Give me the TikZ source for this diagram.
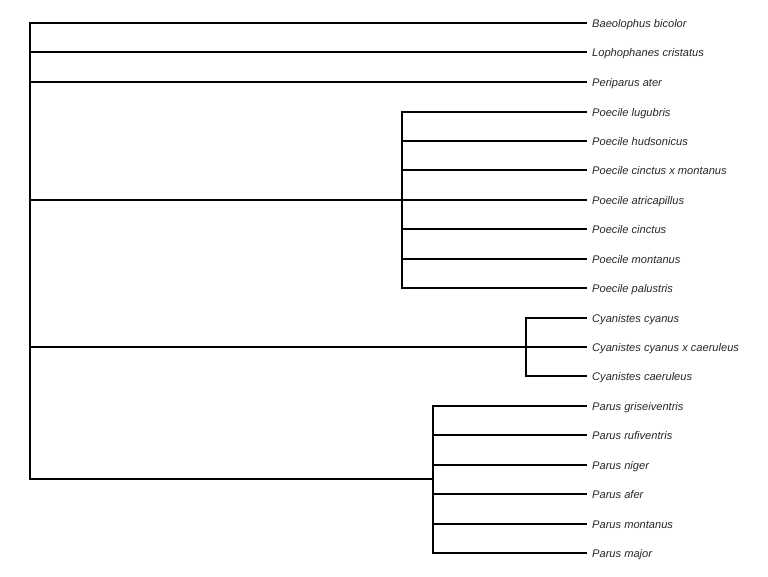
\documentclass[tikz,border=0pt]{standalone}
\usepackage{fontspec}
\setmainfont{Liberation Sans}
\begin{document}
\begin{tikzpicture}[x=1pt,y=-1pt,
  br/.style={line width=2pt,black,line join=miter},
  lab/.style={anchor=mid west,inner sep=0pt,yshift=-1.8pt,font=\fontsize{11.1}{13}\selectfont\itshape,text=black!85}]
\useasboundingbox (0,0) rectangle (768,576);
% tips
\foreach \i/\y in {1/23,2/52,3/82,4/112,5/141,6/170,7/200,8/229,9/259,10/288,11/318,12/347,13/376,14/406,15/435,16/465,17/494,18/524,19/553}
  \coordinate (t\i) at (587,\y);
% labels
\node[lab] (l1) at (592,23) {Baeolophus bicolor};
\node[lab] (l2) at (592,52) {Lophophanes cristatus};
\node[lab] (l3) at (592,82) {Periparus ater};
\node[lab] (l4) at (592,112) {Poecile lugubris};
\node[lab] (l5) at (592,141) {Poecile hudsonicus};
\node[lab] (l6) at (592,170) {Poecile cinctus x montanus};
\node[lab] (l7) at (592,200) {Poecile atricapillus};
\node[lab] (l8) at (592,229) {Poecile cinctus};
\node[lab] (l9) at (592,259) {Poecile montanus};
\node[lab] (l10) at (592,288) {Poecile palustris};
\node[lab] (l11) at (592,318) {Cyanistes cyanus};
\node[lab] (l12) at (592,347) {Cyanistes cyanus x caeruleus};
\node[lab] (l13) at (592,376) {Cyanistes caeruleus};
\node[lab] (l14) at (592,406) {Parus griseiventris};
\node[lab] (l15) at (592,435) {Parus rufiventris};
\node[lab] (l16) at (592,465) {Parus niger};
\node[lab] (l17) at (592,494) {Parus afer};
\node[lab] (l18) at (592,524) {Parus montanus};
\node[lab] (l19) at (592,553) {Parus major};
% internal nodes
\coordinate (root) at (30,251);
\coordinate (poe) at (402,200);
\coordinate (cya) at (526,347);
\coordinate (par) at (433,479);
% root
\draw[br] (root) |- (t1);
\draw[br] (root) |- (t2);
\draw[br] (root) |- (t3);
\draw[br] (root) |- (poe);
\draw[br] (root) |- (cya);
\draw[br] (root) |- (par);
% Poecile
\foreach \i in {4,...,10} \draw[br] (poe) |- (t\i);
% Cyanistes
\foreach \i in {11,12,13} \draw[br] (cya) |- (t\i);
% Parus
\foreach \i in {14,...,19} \draw[br] (par) |- (t\i);
\end{tikzpicture}
\end{document}
